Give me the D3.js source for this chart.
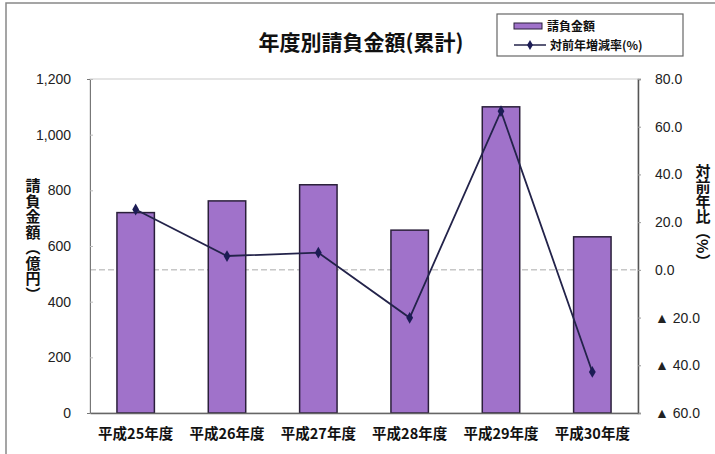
<!DOCTYPE html>
<html>
<head>
<meta charset="utf-8">
<script src="https://cdn.jsdelivr.net/npm/d3@7"></script>
<style>
body { margin: 0; background: #fff; }
text { font-family: "Liberation Sans", Arial, sans-serif; }
.jp { font-family: "Noto Sans CJK JP", sans-serif; font-weight: bold; }
</style>
</head>
<body>
<svg id="chart" width="715" height="454"></svg>
<script>
var years = ["平成25年度", "平成26年度", "平成27年度", "平成28年度", "平成29年度", "平成30年度"];
var amounts = [720, 762, 820, 657, 1100, 633];
var rates = [25.3, 5.8, 7.2, -20.1, 66.5, -42.8];
var leftTicks = [0, 200, 400, 600, 800, 1000, 1200];
var rightTicks = [80, 60, 40, 20, 0, -20, -40, -60];

var svg = d3.select("#chart");
var plotLeft = 90, plotRight = 638, plotTop = 79, plotBottom = 413;

// outer frame
svg.append("path").attr("d", "M 6 454 L 6 3 L 715 3").attr("fill", "none")
	.attr("stroke", "#888").attr("stroke-width", 1.5);

var x = d3.scaleBand().domain(years).range([plotLeft, plotRight]).paddingInner(0.59).paddingOuter(0.295);
var yL = d3.scaleLinear().domain([0, 1200]).range([plotBottom, plotTop]);
var yR = d3.scaleLinear().domain([-60, 80]).range([plotBottom, plotTop]);

// plot frame
svg.append("rect").attr("x", plotLeft).attr("y", plotTop).attr("width", plotRight - plotLeft).attr("height", plotBottom - plotTop)
	.attr("fill", "none").attr("stroke", "#ccc");

// zero line of rate axis
svg.append("line").attr("x1", plotLeft).attr("x2", plotRight).attr("y1", yR(0)).attr("y2", yR(0))
	.attr("stroke", "#aaa").attr("stroke-dasharray", "6,3");

// bars
svg.selectAll(".bar").data(amounts).enter().append("rect")
	.attr("class", "bar")
	.attr("x", function(d, i) { return x(years[i]); })
	.attr("width", x.bandwidth())
	.attr("y", function(d) { return yL(d); })
	.attr("height", function(d) { return plotBottom - yL(d); })
	.attr("fill", "#a072ca").attr("stroke", "#2a1f3a").attr("stroke-width", 1.5);

// left axis
var axL = svg.append("g").attr("transform", "translate(" + plotLeft + ",0)")
	.call(d3.axisLeft(yL).tickValues(leftTicks).tickSize(3).tickPadding(16).tickFormat(d3.format(",")));
axL.select(".domain").attr("stroke", "#777");
axL.selectAll(".tick line").attr("stroke", "#bbb").attr("x2", 3);
axL.selectAll("text").attr("font-size", 14).attr("fill", "#222");

// right axis
var axR = svg.append("g").attr("transform", "translate(" + plotRight + ",0)")
	.call(d3.axisRight(yR).tickValues(rightTicks).tickSize(3).tickPadding(14)
		.tickFormat(function(d) { return d < 0 ? "▲ " + d3.format(".1f")(-d) : d3.format(".1f")(d); }));
axR.select(".domain").attr("stroke", "#555").attr("stroke-width", 1.5);
axR.selectAll(".tick line").attr("stroke", "#999");
axR.selectAll("text").attr("font-size", 14).attr("fill", "#222");

// bottom axis
var axB = svg.append("g").attr("transform", "translate(0," + plotBottom + ")")
	.call(d3.axisBottom(x).tickSize(0).tickPadding(16));
axB.select(".domain").attr("stroke", "#666").attr("stroke-width", 1.5);
axB.selectAll("text").attr("class", "jp").attr("font-size", 14.5).attr("fill", "#111");

// rate line
var line = d3.line()
	.x(function(d, i) { return x(years[i]) + x.bandwidth() / 2; })
	.y(function(d) { return yR(d); });
svg.append("path").datum(rates).attr("d", line).attr("fill", "none")
	.attr("stroke", "#23234a").attr("stroke-width", 1.8);
svg.selectAll(".pt").data(rates).enter().append("path")
	.attr("class", "pt")
	.attr("transform", function(d, i) { return "translate(" + (x(years[i]) + x.bandwidth() / 2) + "," + yR(d) + ")"; })
	.attr("d", d3.symbol(d3.symbolDiamond, 40))
	.attr("fill", "#1c1c55");

// title
svg.append("text").attr("class", "jp").attr("x", 361).attr("y", 50).attr("text-anchor", "middle")
	.attr("font-size", 21).attr("fill", "#111").text("年度別請負金額(累計)");

// axis titles
svg.append("text").attr("class", "jp").attr("x", 33).attr("y", 178)
	.attr("font-size", 15).attr("fill", "#111").style("writing-mode", "vertical-rl")
	.style("letter-spacing", "0.5px").text("請負金額（億円）");
svg.append("text").attr("class", "jp").attr("x", 703).attr("y", 164)
	.attr("font-size", 15).attr("fill", "#111").style("writing-mode", "vertical-rl")
	.text("対前年比（%）");

// legend
var lg = svg.append("g").attr("transform", "translate(497,14)");
lg.append("rect").attr("width", 186).attr("height", 42).attr("fill", "#fff")
	.attr("stroke", "#666").attr("stroke-width", 1.2);
lg.append("rect").attr("x", 17).attr("y", 9).attr("width", 28).attr("height", 6)
	.attr("fill", "#a072ca").attr("stroke", "#2a1f3a");
lg.append("text").attr("class", "jp").attr("x", 50).attr("y", 17).attr("font-size", 12).attr("fill", "#111").text("請負金額");
lg.append("line").attr("x1", 17).attr("x2", 49).attr("y1", 31).attr("y2", 31).attr("stroke", "#23234a").attr("stroke-width", 1.5);
lg.append("path").attr("transform", "translate(33,31)").attr("d", d3.symbol(d3.symbolDiamond, 30)).attr("fill", "#1c1c55");
lg.append("text").attr("class", "jp").attr("x", 53).attr("y", 36).attr("font-size", 12).attr("fill", "#111").text("対前年増減率(%)");
</script>
</body>
</html>
